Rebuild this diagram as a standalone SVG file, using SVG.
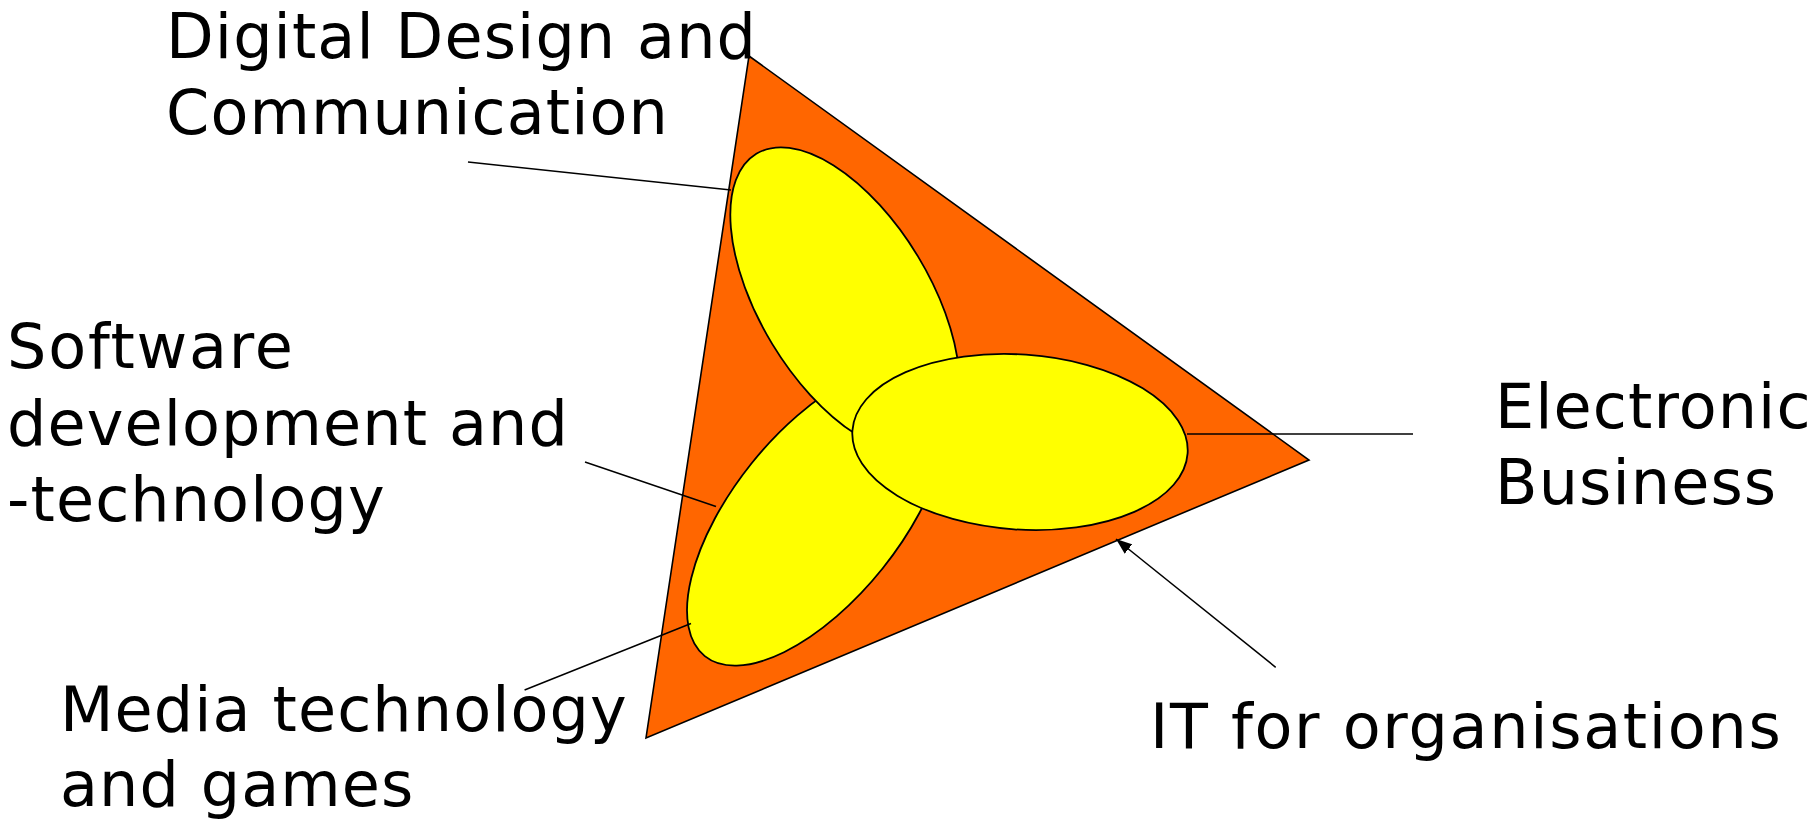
<svg xmlns="http://www.w3.org/2000/svg" width="1820" height="820" viewBox="0 0 1820 820">
  <style>
    .tri { fill: #FF6600; stroke: #000; stroke-width: 1.6; stroke-linejoin: miter; }
    .ell { fill: #FFFF00; stroke: #000; stroke-width: 1.8; }
    .lbl { font-family: "DejaVu Sans", "Liberation Sans", sans-serif; font-size: 62px; fill: #000; letter-spacing: 1.1px; }
    .lead { stroke: #000; stroke-width: 1.5; fill: none; }
  </style>
  <defs>
    <marker id="arrow" markerUnits="userSpaceOnUse" markerWidth="17" markerHeight="13" refX="16" refY="6.5" orient="auto">
      <path d="M0,0.5 L16,6.5 L0,12.5 z" fill="#000"/>
    </marker>
  </defs>
  <rect width="1820" height="820" fill="#fff"/>

  <g id="triangle">
    <polygon class="tri" points="749,56 1309,460 646,738"/>
  </g>

  <g id="ellipse-media">
    <ellipse class="ell" cx="0" cy="0" rx="179.5" ry="84" transform="translate(817,516) rotate(-51.3)"/>
  </g>
  <g id="ellipse-digital">
    <ellipse class="ell" cx="0" cy="0" rx="171" ry="85" transform="translate(845,300) rotate(58.75)"/>
  </g>
  <g id="ellipse-business">
    <ellipse class="ell" cx="0" cy="0" rx="168" ry="87.5" transform="translate(1020,442) rotate(3.9)"/>
  </g>

  <g id="connectors">
    <line class="lead" x1="468" y1="162" x2="731" y2="190"/>
    <line class="lead" x1="585" y1="462" x2="716" y2="506.5"/>
    <line class="lead" x1="524.6" y1="690" x2="691" y2="623.5"/>
    <line class="lead" x1="1187" y1="434" x2="1413" y2="434"/>
    <line class="lead" x1="1275.7" y1="667.3" x2="1116" y2="539" marker-end="url(#arrow)"/>
  </g>

  <g id="label-digital">
    <text class="lbl" x="166" y="58">Digital Design and</text>
    <text class="lbl" x="166" y="134">Communication</text>
  </g>
  <g id="label-software">
    <text class="lbl" x="7" y="368" style="letter-spacing:1.8px">Software</text>
    <text class="lbl" x="7" y="444.5">development and</text>
    <text class="lbl" x="7" y="521">-technology</text>
  </g>
  <g id="label-media">
    <text class="lbl" x="60" y="731">Media technology</text>
    <text class="lbl" x="60" y="806">and games</text>
  </g>
  <g id="label-business">
    <text class="lbl" x="1495" y="428">Electronic</text>
    <text class="lbl" x="1495" y="504">Business</text>
  </g>
  <g id="label-it">
    <text class="lbl" x="1150" y="748" style="letter-spacing:1.7px">IT for organisations</text>
  </g>
</svg>
